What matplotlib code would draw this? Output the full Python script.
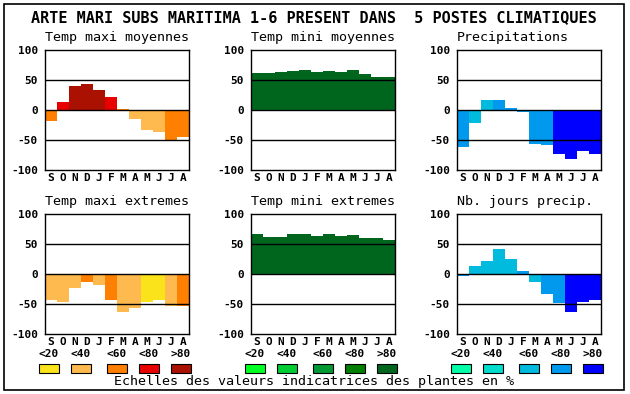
import matplotlib.pyplot as plt
import numpy as np

plt.rcParams["font.family"] = ["DejaVu Sans Mono"]

months = ["S", "O", "N", "D", "J", "F", "M", "A", "M", "J", "J", "A"]
titles = [
    "Temp maxi moyennes", "Temp mini moyennes", "Precipitations",
    "Temp maxi extremes", "Temp mini extremes", "Nb. jours precip.",
]

# valeurs mensuelles (S..A)
tmax_moy = [-18, 13, 40, 43, 33, 22, 2, -15, -34, -36, -50, -45]
tmin_moy = [62, 62, 63, 65, 67, 63, 65, 63, 67, 60, 55, 55]
precip = [-61, -21, 17, 17, 3, -3, -56, -58, -74, -81, -68, -73]
tmax_ext = [-44, -46, -23, -13, -18, -43, -63, -56, -46, -44, -53, -54]
tmin_ext = [67, 62, 62, 67, 67, 63, 67, 63, 65, 60, 60, 57]
nb_jours = [-3, 13, 22, 42, 25, 5, -13, -34, -48, -63, -46, -43]

# classe de valeur indicatrice (0: <20 ... 4: >80)
tmax_moy_cls = [2, 3, 4, 4, 4, 3, 2, 1, 1, 1, 2, 2]
tmin_moy_cls = [4] * 12
precip_cls = [3, 2, 2, 3, 3, 3, 3, 3, 4, 4, 4, 4]
tmax_ext_cls = [1, 1, 1, 2, 1, 2, 1, 1, 0, 0, 1, 2]
tmin_ext_cls = [4] * 12
nb_jours_cls = [3, 2, 2, 2, 2, 3, 2, 3, 3, 4, 4, 4]

scale_labels = ["<20", "<40", "<60", "<80", ">80"]
warm = ["#FAE31A", "#FFBA4F", "#FF8000", "#E80000", "#AA1100"]
green = ["#00FF22", "#00CC33", "#009933", "#007F00", "#00661E"]
blue = ["#00FFAA", "#00DDCC", "#00BBDD", "#0099EE", "#0000FF"]

series = [tmax_moy, tmin_moy, precip, tmax_ext, tmin_ext, nb_jours]
classes = [tmax_moy_cls, tmin_moy_cls, precip_cls, tmax_ext_cls, tmin_ext_cls, nb_jours_cls]
palettes = [warm, green, blue, warm, green, blue]

W, H = 630, 394
fig = plt.figure(figsize=(W / 100, H / 100), dpi=100)


def px(x, y):
    return x / W, 1 - y / H


# cadre general
fig.add_artist(plt.Rectangle(px(4, 390), 620 / W, 386 / H, transform=fig.transFigure,
                             fill=False, edgecolor="black", linewidth=1.2))

fig.text(*px(314, 18), "ARTE MARI SUBS MARITIMA 1-6 PRESENT DANS  5 POSTES CLIMATIQUES",
         ha="center", va="center", fontsize=10.9, fontweight="bold")

lefts = [45, 251, 457]
tops = [50, 214]
x = np.arange(12)
for k, (vals, cls, pal) in enumerate(zip(series, classes, palettes)):
    left = lefts[k % 3]
    top = tops[k // 3]
    x0, y0 = px(left, top + 120)
    ax = fig.add_axes([x0, y0, 144 / W, 120 / H])
    ax.bar(x, vals, width=1.0, color=[pal[c] for c in cls], linewidth=0, zorder=1)
    for yl in (50, 0, -50):
        ax.axhline(yl, color="black", linewidth=1.0, zorder=3)
    ax.set_xlim(-0.5, 11.5)
    ax.set_ylim(-100, 100)
    ax.set_yticks([-100, -50, 0, 50, 100])
    ax.set_yticklabels(["-100", "-50", "0", "50", "100"], fontsize=8, fontweight="bold")
    ax.set_xticks(x)
    ax.set_xticklabels(months, fontsize=8, fontweight="bold")
    ax.tick_params(axis="y", length=0, pad=5)
    ax.tick_params(axis="x", length=0, pad=2)
    for s in ax.spines.values():
        s.set_linewidth(1.0)
    fig.text(*px(left, top - 12), titles[k], ha="left", va="center", fontsize=9.6)

# echelles
offsets = [-6, 26, 62, 94, 126]
for left, pal in zip(lefts, [warm, green, blue]):
    for off, lab, col in zip(offsets, scale_labels, pal):
        fig.add_artist(plt.Rectangle(px(left + off, 373), 20 / W, 9 / H, transform=fig.transFigure,
                                     facecolor=col, edgecolor="black", linewidth=0.8))
        fig.text(*px(left + off + 10, 354), lab, ha="center", va="center",
                 fontsize=8, fontweight="bold")

fig.text(*px(314, 382), "Echelles des valeurs indicatrices des plantes en %",
         ha="center", va="center", fontsize=9.6)

fig.savefig("out.png", dpi=100)
